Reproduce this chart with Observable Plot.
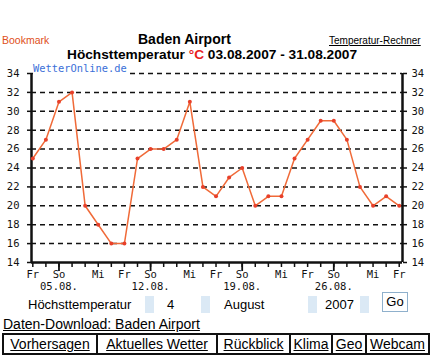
<!DOCTYPE html>
<html><head><meta charset="utf-8">
<script src="https://cdn.jsdelivr.net/npm/d3@7"></script>
<script src="https://cdn.jsdelivr.net/npm/@observablehq/plot@0.6"></script>
<style>
body{margin:0;background:#fff;font-family:"Liberation Sans",Arial,sans-serif;}
#page{position:relative;width:430px;height:356px;overflow:hidden;}
.a{position:absolute;white-space:nowrap;}
#chart{position:absolute;left:0;top:62px;}
.sel{position:absolute;width:9px;height:17px;background:#dbe9f5;}
#nav{position:absolute;left:2px;top:333px;width:424px;height:18px;border:2px solid #111;display:flex;}
#nav div{border-right:2px solid #111;font-size:14px;line-height:18px;text-align:center;text-decoration:underline;}
#nav div:last-child{border-right:none;}
</style></head>
<body><div id="page">
<div class="a" style="left:2px;top:34px;font-size:10.5px;color:#e05020;">Bookmark</div>
<div class="a" style="left:138px;top:31px;font-size:14px;font-weight:bold;">Baden Airport</div>
<div class="a" style="left:329px;top:35px;font-size:10px;text-decoration:underline;">Temperatur-Rechner</div>
<div class="a" style="left:67px;top:47px;font-size:13.7px;font-weight:bold;">Höchsttemperatur <span style="color:#e82020">°C</span> 03.08.2007 - 31.08.2007</div>
<div id="chart"></div>
<div class="a" style="left:33px;top:62px;font-family:'DejaVu Sans Mono',monospace;font-size:10.4px;line-height:13px;color:#3a6fd8;background:#fff;padding-right:2px;">WetterOnline.de</div>
<div class="a" style="left:28px;top:297px;font-size:13px;">Höchsttemperatur</div>
<div class="sel" style="left:145px;top:296px;"></div>
<div class="a" style="left:167px;top:297px;font-size:13px;">4</div>
<div class="sel" style="left:201px;top:296px;"></div>
<div class="a" style="left:224px;top:297px;font-size:13px;">August</div>
<div class="sel" style="left:308px;top:296px;"></div>
<div class="a" style="left:325px;top:297px;font-size:13px;">2007</div>
<div class="sel" style="left:360px;top:296px;"></div>
<div class="a" style="left:382px;top:292px;width:24px;height:18px;border:1px solid #8fb0cc;font-size:13px;text-align:center;line-height:18px;">Go</div>
<div class="a" style="left:3px;top:316px;font-size:14px;text-decoration:underline;">Daten-Download: Baden Airport</div>
<div id="nav">
<div style="width:92px">Vorhersagen</div>
<div style="width:118px">Aktuelles Wetter</div>
<div style="width:71px">Rückblick</div>
<div style="width:40px">Klima</div>
<div style="width:32px">Geo</div>
<div style="flex:1">Webcam</div>
</div>
</div>
<script>
const days = [3,4,5,6,7,8,9,10,11,12,13,14,15,16,17,18,19,20,21,22,23,24,25,26,27,28,29,30,31];
const temps = [25,27,31,32,20,18,16,16,25,26,26,27,31,22,21,23,24,20,21,21,25,27,29,29,27,22,20,21,20];
const yTicks = [14,16,18,20,22,24,26,28,30,32,34];
const gridLines = [16,18,20,22,24,26,28,30,32,34];
const labelDays = [3,5,8,10,12,15,17,19,22,24,26,29,31];
const weekdayNames = ["Fr","So","Mi","Fr","So","Mi","Fr","So","Mi","Fr","So","Mi","Fr"];
const sundays = [5,12,19,26];
const dateLabels = ["05.08.","12.08.","19.08.","26.08."];

const pts = days.map((d,i)=>({day:d,t:temps[i]}));
const wk = labelDays.map((d,i)=>({day:d,name:weekdayNames[i]}));
const dl = sundays.map((d,i)=>({day:d,label:dateLabels[i]}));
const mono = "DejaVu Sans Mono, monospace";
const xMin = 2.9, xMax = 31.25;

const chart = Plot.plot({
  width:430, height:235,
  marginLeft:31, marginRight:28, marginTop:11, marginBottom:35,
  x:{domain:[xMin,xMax], axis:null, label:null},
  y:{domain:[14,34], axis:null, label:null},
  style:{background:"transparent", fontFamily:mono, fontSize:"10.5px", color:"#111"},
  marks:[
    Plot.ruleY(gridLines,{stroke:"#111",strokeWidth:1.5,strokeDasharray:"5,4"}),
    Plot.axisY({anchor:"left",label:null,ticks:yTicks,tickSize:4,tickPadding:8,tickFormat:d=>d,fontSize:10.5,stroke:"#111",strokeWidth:1.5}),
    Plot.axisY({anchor:"right",label:null,ticks:yTicks,tickSize:4,tickPadding:5,tickFormat:d=>d,fontSize:10.5,stroke:"#111",strokeWidth:1.5}),
    Plot.ruleX([xMin,xMax],{y1:14,y2:34,stroke:"#111",strokeWidth:2.5}),
    Plot.ruleY([14],{stroke:"#111",strokeWidth:2.5}),
    Plot.axisX({label:null,ticks:days,tickSize:5,tickFormat:()=>"",stroke:"#111",strokeWidth:1.5}),
    Plot.axisX({label:null,ticks:sundays,tickSize:9,tickFormat:()=>"",stroke:"#111",strokeWidth:1.8}),
    Plot.text(wk,{x:"day",text:"name",frameAnchor:"bottom",dy:15,fontSize:10.5,fill:"#111"}),
    Plot.text(dl,{x:"day",text:"label",frameAnchor:"bottom",dy:27,fontSize:10.5,fill:"#111"}),
    Plot.line(pts,{x:"day",y:"t",stroke:"#f06a38",strokeWidth:1.5}),
    Plot.dot(pts,{x:"day",y:"t",r:2,fill:"#e8402a",stroke:"none"})
  ]
});
document.getElementById("chart").appendChild(chart);
</script>
</body></html>
